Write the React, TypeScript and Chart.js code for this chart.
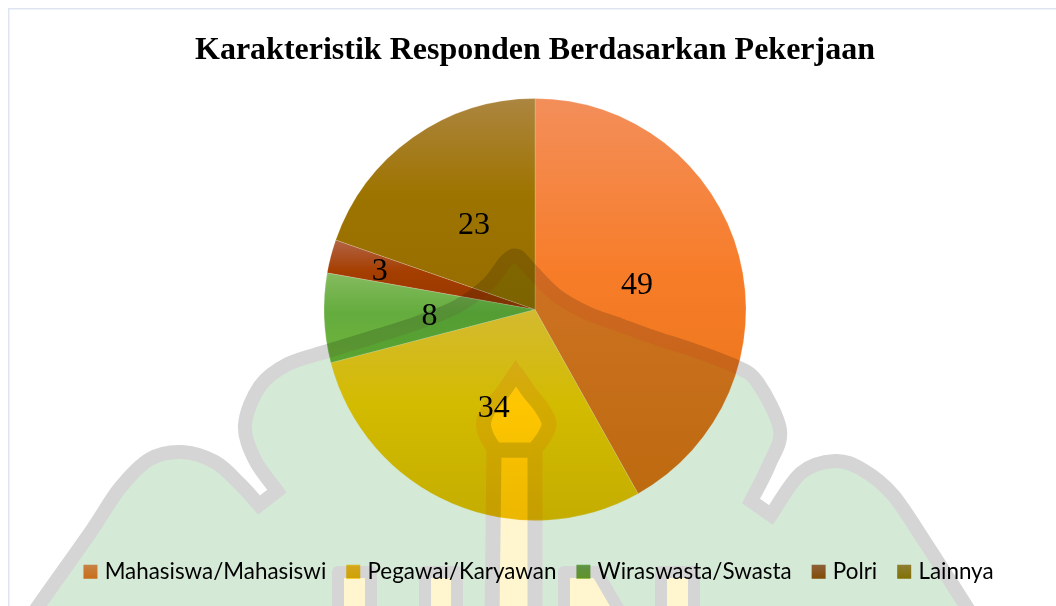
import React, { useEffect, useRef } from "react";
import { Chart, registerables } from "chart.js";

Chart.register(...registerables);

const TITLE = "Karakteristik Responden Berdasarkan Pekerjaan";
const categories = ["Mahasiswa/Mahasiswi", "Pegawai/Karyawan", "Wiraswasta/Swasta", "Polri", "Lainnya"];
const values = [49, 34, 8, 3, 23];

const sliceTop = ["rgb(243,142,90)", "rgb(255,204,57)", "rgb(133,187,95)", "rgb(178,100,70)", "rgb(172,133,64)"];
const sliceMid = ["rgb(247,124,40)", "rgb(254,205,0)", "rgb(100,172,62)", "rgb(165,62,0)", "rgb(158,116,0)"];
const sliceEnd = ["rgb(228,116,18)", "rgb(236,190,0)", "rgb(110,180,58)", "rgb(150,55,0)", "rgb(150,108,0)"];
const swatchTop = ["rgb(241,143,82)", "rgb(255,199,36)", "rgb(114,175,84)", "rgb(172,105,67)", "rgb(172,138,57)"];
const swatchEnd = ["rgb(241,118,25)", "rgb(246,193,0)", "rgb(115,175,45)", "rgb(153,81,0)", "rgb(153,122,0)"];
const labelDistance = [0.5, 0.5, 0.5, 0.76, 0.5];

const PIE_RADIUS = 211;

type P = [number, number];

// Watermark behind the chart (decoration, not data)
const hillLeft: P[] = [[20, 634], [39, 605], [90, 533], [120, 488], [150, 459], [182, 452], [215, 462], [240, 484], [259, 505]];
const curveUp: P[] = [[277, 491], [255, 460], [245, 425], [260, 386], [288, 364], [328, 351], [380, 335], [420, 322], [458, 306], [488, 284], [506, 261], [517, 256], [530, 269], [556, 295], [587, 313], [620, 325], [653, 337], [693, 350], [737, 367], [758, 383], [780, 430], [769, 465], [751, 501]];
const hillRight: P[] = [[771, 515], [801, 473], [835, 461], [863, 470], [893, 495], [925, 542], [961, 598], [985, 636]];
const flameLeft: P[] = [[516, 373], [503, 392], [490, 407], [483.5, 423], [487, 437], [495, 450]];
const flameRight: P[] = [[534, 450], [544, 437], [549, 423], [541, 407], [529, 392], [516, 373]];
const flameTip: P[] = [[515.5, 360], [502, 381], [530, 381]];
const tower: P[] = [[492, 620], [494, 450], [535, 450], [535, 620]];
const pillarA: P[] = [[338, 620], [338, 572], [371, 572], [371, 620]];
const pillarB: P[] = [[425, 620], [425, 572], [457, 572], [457, 620]];
const pillarD: P[] = [[564, 620], [564, 572], [597, 572], [628, 625]];
const pillarE: P[] = [[661, 620], [661, 572], [694, 572], [694, 620]];

const GREEN = "#d4e9d6";
const GREY = "#d5d5d5";
const CREAM = "#fff6d0";

function smooth(ctx: CanvasRenderingContext2D, pts: P[], first: boolean) {
  if (first) ctx.moveTo(pts[0][0], pts[0][1]);
  else ctx.lineTo(pts[0][0], pts[0][1]);
  for (let i = 0; i < pts.length - 1; i++) {
    const p0 = pts[Math.max(i - 1, 0)];
    const p1 = pts[i];
    const p2 = pts[i + 1];
    const p3 = pts[Math.min(i + 2, pts.length - 1)];
    ctx.bezierCurveTo(
      p1[0] + (p2[0] - p0[0]) / 6, p1[1] + (p2[1] - p0[1]) / 6,
      p2[0] - (p3[0] - p1[0]) / 6, p2[1] - (p3[1] - p1[1]) / 6,
      p2[0], p2[1]
    );
  }
}

function poly(ctx: CanvasRenderingContext2D, pts: P[], width: number) {
  ctx.beginPath();
  pts.forEach((p, i) => (i ? ctx.lineTo(p[0], p[1]) : ctx.moveTo(p[0], p[1])));
  ctx.fillStyle = CREAM;
  ctx.fill();
  ctx.lineWidth = width;
  ctx.strokeStyle = GREY;
  ctx.lineJoin = "round";
  ctx.stroke();
}

function buildWatermark(w: number, h: number) {
  const c = document.createElement("canvas");
  c.width = w;
  c.height = h;
  const ctx = c.getContext("2d") as CanvasRenderingContext2D;
  ctx.fillStyle = "#fff";
  ctx.fillRect(0, 0, w, h);
  ctx.beginPath();
  smooth(ctx, hillLeft, true);
  smooth(ctx, curveUp, false);
  smooth(ctx, hillRight, false);
  ctx.closePath();
  ctx.fillStyle = GREEN;
  ctx.fill();
  ctx.beginPath();
  smooth(ctx, hillLeft, true);
  smooth(ctx, curveUp, false);
  smooth(ctx, hillRight, false);
  ctx.lineWidth = 14;
  ctx.strokeStyle = GREY;
  ctx.lineJoin = "miter";
  ctx.miterLimit = 6;
  ctx.stroke();
  poly(ctx, pillarA, 12);
  poly(ctx, pillarB, 12);
  poly(ctx, pillarD, 12);
  poly(ctx, pillarE, 12);
  poly(ctx, tower, 15);
  ctx.beginPath();
  smooth(ctx, flameLeft, true);
  smooth(ctx, flameRight, false);
  ctx.closePath();
  ctx.fillStyle = CREAM;
  ctx.fill();
  ctx.lineWidth = 15;
  ctx.strokeStyle = GREY;
  ctx.lineJoin = "round";
  ctx.stroke();
  ctx.beginPath();
  flameTip.forEach((p, i) => (i ? ctx.lineTo(p[0], p[1]) : ctx.moveTo(p[0], p[1])));
  ctx.closePath();
  ctx.fillStyle = GREY;
  ctx.fill();
  // page frame
  ctx.fillStyle = "#dfe5f0";
  ctx.fillRect(8, 8, w - 8, 1.5);
  ctx.fillRect(8, 8, 1.5, h - 8);
  return c;
}

function sliceGradient(chart: any, i: number) {
  const area = chart.chartArea;
  if (!area) return sliceMid[i];
  const total = values.reduce((a, b) => a + b, 0);
  const before = values.slice(0, i).reduce((a, b) => a + b, 0);
  const a0 = (before / total) * Math.PI * 2;
  const a1 = ((before + values[i]) / total) * Math.PI * 2;
  const cy = (area.top + area.bottom) / 2;
  const ys = [cy, cy - PIE_RADIUS * Math.cos(a0), cy - PIE_RADIUS * Math.cos(a1)];
  if (a0 <= Math.PI && a1 >= Math.PI) ys.push(cy + PIE_RADIUS);
  const g = chart.ctx.createLinearGradient(0, Math.min(...ys), 0, Math.max(...ys));
  g.addColorStop(0, sliceTop[i]);
  g.addColorStop(0.45, sliceMid[i]);
  g.addColorStop(1, sliceEnd[i]);
  return g;
}

const whitePage = {
  id: "whitePage",
  beforeDraw(chart: any) {
    const { ctx, width, height } = chart;
    ctx.save();
    ctx.fillStyle = "#fff";
    ctx.fillRect(0, 0, width, height);
    ctx.restore();
  },
};

const legendNudge = {
  id: "legendNudge",
  afterLayout(chart: any) {
    chart.legend.left += 5.5;
    chart.legend.right += 5.5;
    chart.legend.top += 1;
    chart.legend.bottom += 1;
  },
};

const valueLabels = {
  id: "valueLabels",
  afterDatasetsDraw(chart: any) {
    const { ctx } = chart;
    const arcs = chart.getDatasetMeta(0).data;
    ctx.save();
    ctx.font = '32px "Liberation Serif"';
    ctx.fillStyle = "#000";
    ctx.textAlign = "center";
    ctx.textBaseline = "middle";
    arcs.forEach((arc: any, i: number) => {
      const { x, y, startAngle, endAngle, outerRadius } = arc.getProps(["x", "y", "startAngle", "endAngle", "outerRadius"], true);
      const mid = (startAngle + endAngle) / 2;
      const r = outerRadius * labelDistance[i];
      ctx.fillText(String(values[i]), x + Math.cos(mid) * r, y + Math.sin(mid) * r + 2.5);
    });
    ctx.restore();
  },
};

const watermark = {
  id: "watermark",
  afterDraw(chart: any) {
    const { ctx, width, height } = chart;
    ctx.save();
    ctx.globalCompositeOperation = "multiply";
    ctx.drawImage(buildWatermark(width, height), 0, 0);
    ctx.restore();
  },
};

export default function App() {
  const ref = useRef<HTMLCanvasElement | null>(null);
  useEffect(() => {
    if (!ref.current) return;
    const chart = new Chart(ref.current, {
      type: "pie",
      data: {
        labels: categories,
        datasets: [
          {
            data: values,
            radius: PIE_RADIUS,
            backgroundColor: (c: any) => sliceGradient(c.chart, c.dataIndex),
            borderColor: "rgba(255,255,255,0.3)",
            borderWidth: 0.6,
          },
        ],
      },
      options: {
        responsive: false,
        animation: false,
        layout: { padding: { left: 14, right: 0, top: 0, bottom: 14 } },
        plugins: {
          tooltip: { enabled: false },
          title: {
            display: true,
            text: TITLE,
            color: "#000",
            font: { family: '"Liberation Serif"', size: 32, weight: "bold" },
            padding: { top: 32, bottom: 13 },
          },
          legend: {
            display: true,
            position: "bottom",
            onClick: () => {},
            labels: {
              boxWidth: 6,
              boxHeight: 6,
              padding: 24,
              color: "#111",
              font: { family: "Lato", size: 22.4 },
              generateLabels: () => {
                return categories.map((text, i) => {
                  const g = (document.createElement("canvas").getContext("2d") as any).createLinearGradient(0, 565, 0, 580);
                  g.addColorStop(0, swatchTop[i]);
                  g.addColorStop(1, swatchEnd[i]);
                  return { text, fillStyle: g, strokeStyle: g, lineWidth: 8, index: i, hidden: false };
                });
              },
            },
          },
        },
      },
      plugins: [whitePage, legendNudge, valueLabels, watermark],
    } as any);
    return () => chart.destroy();
  }, []);
  return (
    <div style={{ position: "fixed", left: 0, top: 0, width: 1056, height: 606 }}>
      <canvas ref={ref} width={1056} height={606} style={{ display: "block" }} />
    </div>
  );
}
